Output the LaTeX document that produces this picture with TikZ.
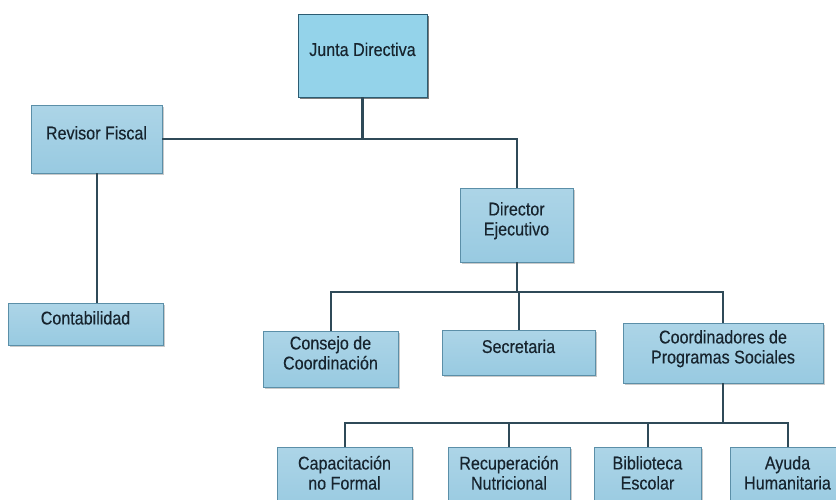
\documentclass[tikz,border=0pt]{standalone}
\usepackage{fontspec}
\setmainfont{Liberation Sans}[FakeStretch=0.87, FakeBold=0.3]
\usepackage{tikz}
\usetikzlibrary{positioning, shadows, calc}
\definecolor{boxedge}{HTML}{5B8FA8}
\definecolor{boxlight}{HTML}{F0F8FC}
\definecolor{boxmid}{HTML}{98CAE1}
\definecolor{juntalight}{HTML}{94D3EA}
\definecolor{juntadark}{HTML}{4FAFD4}
\definecolor{juntaedge}{HTML}{2C5C72}
\definecolor{wire}{HTML}{2F4A58}
\definecolor{textdark}{HTML}{17242E}
\newcommand{\Unit}[1]{#1}
\tikzset{
    unit/.style={rectangle, draw=boxedge, line width=0.8pt, inner sep=0pt,
      align=center, text=textdark, font=\fontsize{18.5}{20}\selectfont,
      text depth=12.5pt,
      top color=boxmid!80, middle color=boxlight, bottom color=boxmid,
      drop shadow={shadow xshift=2pt, shadow yshift=-2pt, opacity=0.35, fill=black!60}},
    topunit/.style={unit, draw=juntaedge,
      top color=juntalight, middle color=juntadark, bottom color=juntalight,
      drop shadow={shadow xshift=2pt, shadow yshift=-2pt, opacity=0.6, fill=black!70}},
    wired/.style={draw=wire, line width=2pt},
    mainwire/.style={draw=wire, line width=3pt},
}
\begin{document}
\begin{tikzpicture}[x=1pt, y=-1pt]
    \useasboundingbox (0,0) rectangle (836,499);

    \node[topunit, minimum width=129pt, minimum height=83pt] (junta) at (362.5,55.5) {\Unit{Junta Directiva}};
    \node[unit, minimum width=131pt, minimum height=68pt] (revisor) at (96.5,139) {\Unit{Revisor Fiscal}};
    \node[unit, minimum width=155pt, minimum height=42pt] (conta) at (85.5,324) {\Unit{Contabilidad}};
    \node[unit, minimum width=113pt, minimum height=74pt] (director) at (516.5,225) {\Unit{Director\\Ejecutivo}};

    \node[unit, minimum width=135pt, minimum height=56pt] (consejo) at (330.5,359) {\Unit{Consejo de\\Coordinación}};
    \node[unit, minimum width=153pt, minimum height=45pt] (secret) at (518.5,352.5) {\Unit{Secretaria}};
    \node[unit, minimum width=200pt, minimum height=60pt] (coord) at (723,353) {\Unit{Coordinadores de\\Programas Sociales}};

    \node[unit, minimum width=135pt, minimum height=64pt] (capac) at (344.5,479) {\Unit{Capacitación\\no Formal}};
    \node[unit, minimum width=122pt, minimum height=64pt] (recup) at (509,479) {\Unit{Recuperación\\Nutricional}};
    \node[unit, minimum width=107pt, minimum height=64pt] (biblio) at (647.5,479) {\Unit{Biblioteca\\Escolar}};
    \node[unit, minimum width=115pt, minimum height=64pt] (ayuda) at (787.5,479) {\Unit{Ayuda\\Humanitaria}};

    \coordinate (jbus) at (junta.south |- revisor.east);
    \coordinate (dbus) at (516.5,292);
    \coordinate (cbus) at (723,423);

    \draw[mainwire] (junta.south) -- (jbus);
    \draw[wired] (revisor.east) -| (director.north);
    \draw[wired] (revisor.south) -- (revisor.south |- conta.north);

    \draw[wired] (director.south) -- (dbus);
    \draw[wired] (consejo.north) |- (dbus) -| (coord.north);
    \draw[wired] (secret.north) -- (secret.north |- dbus);

    \draw[wired] (coord.south) -- (cbus);
    \draw[wired] (capac.north) |- (cbus) -| (ayuda.north);
    \draw[wired] (recup.north) -- (recup.north |- cbus);
    \draw[wired] (biblio.north) -- (biblio.north |- cbus);
  \end{tikzpicture}
\end{document}
